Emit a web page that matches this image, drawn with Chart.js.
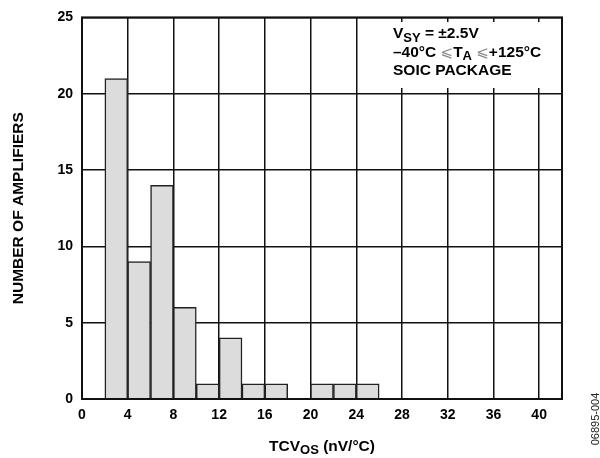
<!DOCTYPE html>
<html>
<head>
<meta charset="utf-8">
<script src="https://cdn.jsdelivr.net/npm/chart.js@4.4.1/dist/chart.umd.min.js"></script>
<style>
  html, body { margin: 0; padding: 0; background: #fff; }
  #wrap { width: 600px; height: 458px; position: relative; }
</style>
</head>
<body>
<div id="wrap"><canvas id="c" width="600" height="458"></canvas></div>
<script>
// Histogram bins (left edges, width 2 nV/°C) and counts
const binStarts = [2, 4, 6, 8, 10, 12, 14, 16, 18, 20, 22, 24];
const binWidth = 2;
const counts = [21, 9, 14, 6, 1, 4, 1, 1, 0, 1, 1, 1];
const xTicks = [0, 4, 8, 12, 16, 20, 24, 28, 32, 36, 40];
const yTicks = [0, 5, 10, 15, 20, 25];
const xRange = [0, 42];
const yRange = [0, 25];

const FONT = "'Liberation Sans', Arial, Helvetica, sans-serif";

const points = binStarts.map((s, i) => ({ x: s + binWidth / 2, y: counts[i] }));

const PLOT = { left: 82, top: 15, right: 562, bottom: 399 };

function drawSub(ctx, parts, x, y, align, subSize, subDy) {
  let total = 0;
  parts.forEach(p => {
    ctx.font = "bold " + (p.sub ? subSize : p.size) + "px " + FONT;
    total += ctx.measureText(p.t).width;
  });
  let cx = align === 'center' ? x - total / 2 : x;
  parts.forEach(p => {
    ctx.font = "bold " + (p.sub ? subSize : p.size) + "px " + FONT;
    ctx.fillText(p.t, cx, p.sub ? y + subDy : y);
    cx += ctx.measureText(p.t).width;
  });
}

const decor = {
  id: 'decor',
  beforeDatasetsDraw(chart) {
    const ctx = chart.ctx;
    const a = chart.chartArea;
    ctx.save();
    // white annotation box covering grid
    ctx.fillStyle = '#fff';
    ctx.fillRect(360, 22, a.right - 360 - 1, 66);
    ctx.fillStyle = '#000';
    ctx.textAlign = 'left';
    ctx.textBaseline = 'alphabetic';
    const tx = 393;
    drawSub(ctx, [{t: 'V', size: 15.5}, {t: 'SY', sub: true}, {t: ' = ±2.5V', size: 15.5}], tx, 38.3, 'left', 13, 3.5);
    let cx = tx;
    const seg = (t, font, color, dy) => {
      ctx.font = font; ctx.fillStyle = color;
      ctx.fillText(t, cx, 56.7 + (dy || 0));
      cx += ctx.measureText(t).width;
    };
    seg('–40°C ', "bold 15.5px " + FONT, '#000');
    seg('⩽', "15px 'DejaVu Sans', " + FONT, '#888');
    seg('T', "bold 15.5px " + FONT, '#000');
    seg('A', "bold 13px " + FONT, '#000', 3.5);
    seg(' ', "bold 15.5px " + FONT, '#000');
    seg('⩽', "15px 'DejaVu Sans', " + FONT, '#888');
    seg('+125°C', "bold 15.5px " + FONT, '#000');
    ctx.fillStyle = '#000';
    ctx.font = "bold 15.5px " + FONT;
    ctx.fillText('SOIC PACKAGE', tx, 75);
    ctx.restore();
  },
  afterDraw(chart) {
    const ctx = chart.ctx;
    const a = chart.chartArea;
    ctx.save();
    ctx.strokeStyle = '#111';
    ctx.lineWidth = 2;
    ctx.strokeRect(a.left, a.top, a.right - a.left, a.bottom - a.top);
    ctx.fillStyle = '#000';
    ctx.textBaseline = 'alphabetic';
    drawSub(ctx, [{t: 'TCV', size: 15.5}, {t: 'OS', sub: true}, {t: ' (nV/°C)', size: 15.5}], (a.left + a.right) / 2, 450.7, 'center', 13, 3.5);
    ctx.save();
    ctx.translate(23, (a.top + a.bottom) / 2);
    ctx.rotate(-Math.PI / 2);
    ctx.textAlign = 'center';
    ctx.textBaseline = 'alphabetic';
    ctx.font = "bold 15.5px " + FONT;
    ctx.fillText('NUMBER OF AMPLIFIERS', 0, 0);
    ctx.restore();
    ctx.save();
    ctx.translate(599, 419);
    ctx.rotate(-Math.PI / 2);
    ctx.textAlign = 'center';
    ctx.textBaseline = 'alphabetic';
    ctx.font = "11px " + FONT;
    ctx.fillStyle = '#222';
    ctx.fillText('06895-004', 0, 0);
    ctx.restore();
    ctx.restore();
  }
};

new Chart(document.getElementById('c'), {
  type: 'bar',
  data: {
    datasets: [{
      data: points,
      backgroundColor: '#dcdcdc',
      borderColor: '#222',
      borderWidth: 1.5,
      borderSkipped: 'bottom',
      barPercentage: 1,
      categoryPercentage: 1
    }]
  },
  options: {
    responsive: false,
    animation: false,
    devicePixelRatio: 1,
    layout: { padding: { left: 0, top: PLOT.top, right: 600 - PLOT.right, bottom: 0 } },
    plugins: { legend: { display: false }, tooltip: { enabled: false } },
    scales: {
      x: {
        type: 'linear',
        offset: false,
        min: xRange[0], max: xRange[1],
        afterBuildTicks: s => { s.ticks = xTicks.map(v => ({ value: v })); },
        afterFit: s => { s.height = 458 - PLOT.bottom; },
        ticks: { color: '#000', font: { family: FONT, size: 14, weight: 'bold' }, padding: 8, maxRotation: 0, autoSkip: false },
        grid: { color: '#111', lineWidth: 1.5, drawTicks: false, offset: false },
        border: { display: false }
      },
      y: {
        min: yRange[0], max: yRange[1],
        afterBuildTicks: s => { s.ticks = yTicks.map(v => ({ value: v })); },
        afterFit: s => { s.width = PLOT.left; },
        ticks: { color: '#000', font: { family: FONT, size: 14, weight: 'bold' }, padding: 9 },
        grid: { color: '#111', lineWidth: 1.5, drawTicks: false },
        border: { display: false }
      }
    }
  },
  plugins: [decor]
});
</script>
</body>
</html>
